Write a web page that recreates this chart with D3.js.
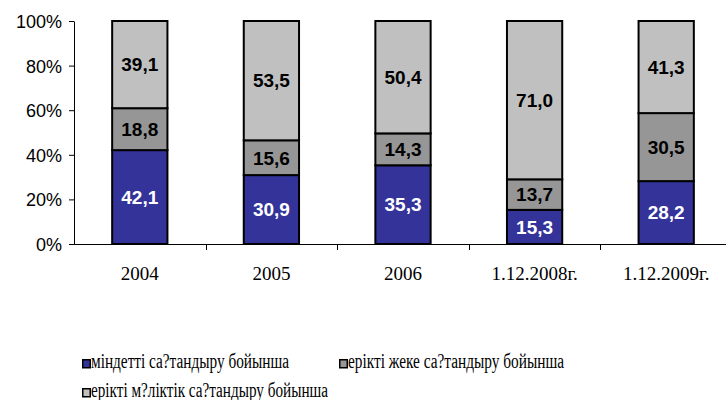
<!DOCTYPE html>
<html>
<head>
<meta charset="utf-8">
<script src="https://cdn.jsdelivr.net/npm/d3@7"></script>
<style>
  body { margin: 0; background: #fff; }
  svg { display: block; }
  .serif { font-family: "Liberation Serif", "DejaVu Serif", serif; }
  .sans { font-family: "Liberation Sans", Arial, sans-serif; }
</style>
</head>
<body>
<div id="chart"></div>
<script>
var categories = ["2004", "2005", "2006", "1.12.2008г.", "1.12.2009г."];
var seriesNames = ["міндетті са?тандыру бойынша", "ерікті жеке са?тандыру бойынша", "ерікті м?ліктік са?тандыру бойынша"];
var mandatory = [42.1, 30.9, 35.3, 15.3, 28.2];
var voluntaryPersonal = [18.8, 15.6, 14.3, 13.7, 30.5];
var voluntaryProperty = [39.1, 53.5, 50.4, 71.0, 41.3];
var yTicks = [0, 20, 40, 60, 80, 100];

var width = 726, height = 400;
var colors = ["#333399", "#969696", "#c0c0c0"];
var labelColors = ["#fff", "#000", "#000"];

// build rows for d3.stack
var keys = ["s0", "s1", "s2"];
var rows = categories.map(function (c, i) {
    return { cat: c, s0: mandatory[i], s1: voluntaryPersonal[i], s2: voluntaryProperty[i] };
});

var svg = d3.select("#chart").append("svg")
    .attr("width", width)
    .attr("height", height);

var x = d3.scaleBand()
    .domain(categories)
    .range([74, 732])
    .paddingInner(0.58)
    .paddingOuter(0.29);

var y = d3.scaleLinear()
    .domain([0, 100])
    .range([244, 21]);

// y axis
var yAxis = svg.append("g")
    .attr("transform", "translate(74,0)")
    .call(d3.axisLeft(y).tickValues(yTicks).tickSize(5).tickSizeOuter(0)
        .tickFormat(function (d) { return d + "%"; }));
yAxis.select(".domain").attr("stroke", "#000").attr("stroke-width", 1);
yAxis.selectAll(".tick line").attr("stroke", "#000");
yAxis.selectAll(".tick text")
    .attr("class", "sans")
    .attr("x", -12)
    .attr("dy", "0.36em")
    .attr("font-size", "18px")
    .attr("fill", "#000");

// x axis line with ticks between categories
var step = x.step();
var x0 = 74;
svg.append("line")
    .attr("x1", x0).attr("x2", width)
    .attr("y1", 244.5).attr("y2", 244.5)
    .attr("stroke", "#000");
categories.forEach(function (c, i) {
    if (i === 0) return;
    var bx = Math.round(x(c) - step * 0.29) + 0.5;
    svg.append("line")
        .attr("x1", bx).attr("x2", bx)
        .attr("y1", 244).attr("y2", 250)
        .attr("stroke", "#000");
});

svg.append("g").selectAll("text")
    .data(categories)
    .enter().append("text")
    .attr("class", "serif")
    .attr("x", function (d) { return x(d) + x.bandwidth() / 2; })
    .attr("y", 280)
    .attr("text-anchor", "middle")
    .attr("font-size", "19px")
    .text(function (d) { return d; });

var stacked = d3.stack().keys(keys)(rows);

var layers = svg.append("g").selectAll("g")
    .data(stacked)
    .enter().append("g")
    .attr("fill", function (d, i) { return colors[i]; });

layers.selectAll("rect")
    .data(function (d) { return d; })
    .enter().append("rect")
    .attr("x", function (d) { return x(d.data.cat); })
    .attr("y", function (d) { return y(d[1]); })
    .attr("width", x.bandwidth())
    .attr("height", function (d) { return y(d[0]) - y(d[1]); })
    .attr("stroke", "#000")
    .attr("stroke-width", 2);

stacked.forEach(function (layer, li) {
    svg.append("g").selectAll("text")
        .data(layer)
        .enter().append("text")
        .attr("class", "sans")
        .attr("x", function (d) { return x(d.data.cat) + x.bandwidth() / 2; })
        .attr("y", function (d) { return (y(d[0]) + y(d[1])) / 2; })
        .attr("dy", "0.36em")
        .attr("text-anchor", "middle")
        .attr("fill", labelColors[li])
        .attr("font-size", "19px")
        .attr("font-weight", "bold")
        .text(function (d) { return (d[1] - d[0]).toFixed(1).replace(".", ","); });
});

// legend
var legendPos = [[82, 359], [339, 359], [82, 388]];
var legendWidths = [198, 216, 237];
var legend = svg.append("g").selectAll("g")
    .data(seriesNames)
    .enter().append("g")
    .attr("transform", function (d, i) { return "translate(" + legendPos[i][0] + "," + legendPos[i][1] + ")"; });
legend.append("rect")
    .attr("x", 0.75).attr("y", 0.75)
    .attr("width", 7.5).attr("height", 8)
    .attr("fill", function (d, i) { return colors[i]; })
    .attr("stroke", "#000")
    .attr("stroke-width", 1.5);
legend.append("text")
    .attr("class", "serif")
    .attr("x", 9)
    .attr("y", 9)
    .attr("font-size", "20px")
    .attr("textLength", function (d, i) { return legendWidths[i]; })
    .attr("lengthAdjust", "spacingAndGlyphs")
    .text(function (d) { return d; });
</script>
</body>
</html>
